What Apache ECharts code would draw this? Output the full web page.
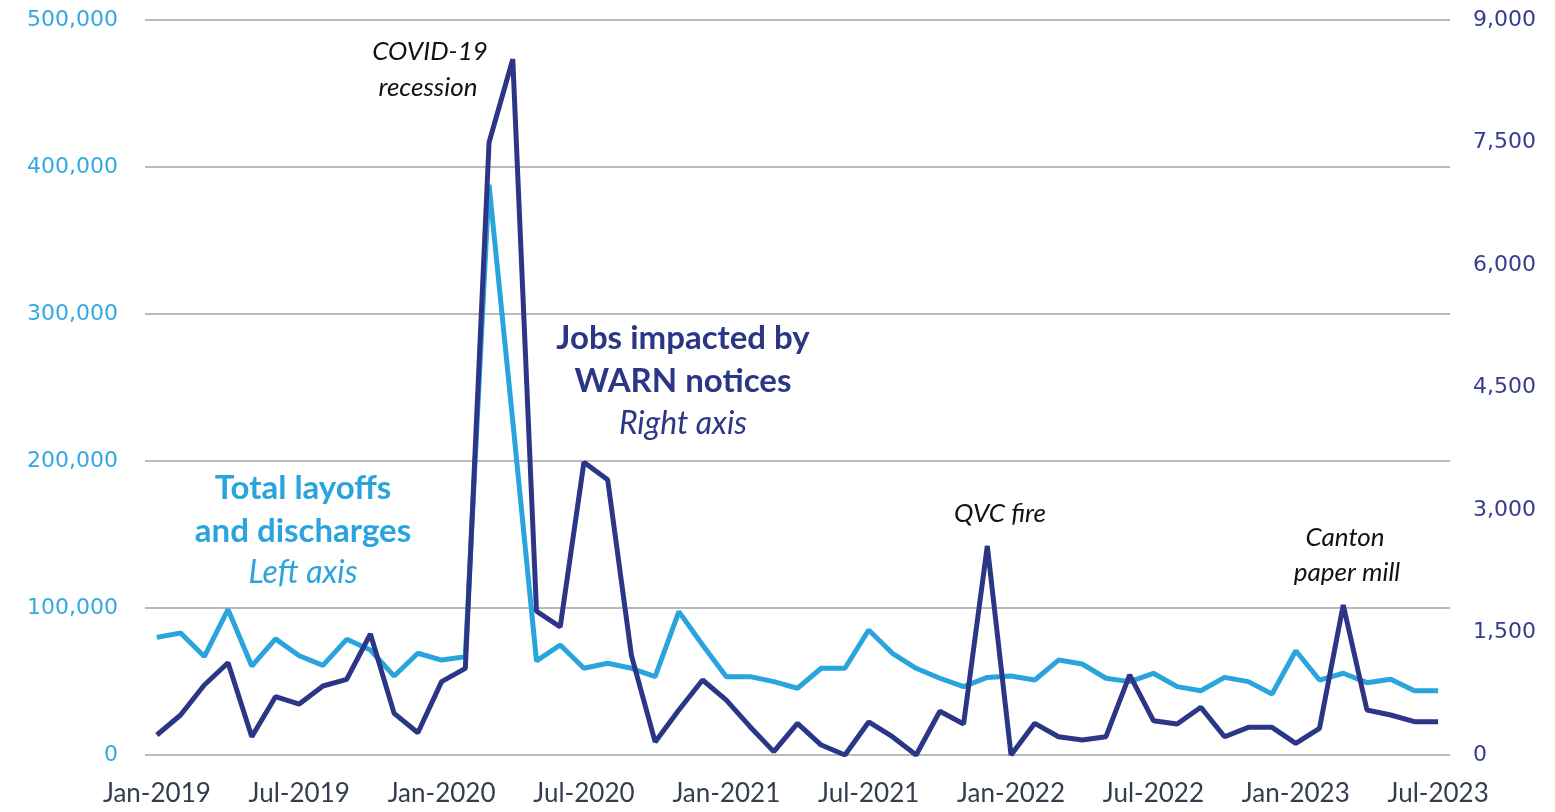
<!DOCTYPE html>
<html>
<head>
    <meta charset="UTF-8">
    <title>Layoffs and WARN notices</title>
    <script src="https://cdn.jsdelivr.net/npm/echarts@6/dist/echarts.min.js"></script>
    <style>
        html, body { margin: 0; padding: 0; background: #fff; }
        #container { width: 1555px; height: 812px; }
    </style>
</head>
<body>
<div id="container"></div>
<script>
    // month categories, Jan-2019 .. Jul-2023
    var months = [
        'Jan-2019','Feb-2019','Mar-2019','Apr-2019','May-2019','Jun-2019','Jul-2019','Aug-2019','Sep-2019','Oct-2019','Nov-2019','Dec-2019',
        'Jan-2020','Feb-2020','Mar-2020','Apr-2020','May-2020','Jun-2020','Jul-2020','Aug-2020','Sep-2020','Oct-2020','Nov-2020','Dec-2020',
        'Jan-2021','Feb-2021','Mar-2021','Apr-2021','May-2021','Jun-2021','Jul-2021','Aug-2021','Sep-2021','Oct-2021','Nov-2021','Dec-2021',
        'Jan-2022','Feb-2022','Mar-2022','Apr-2022','May-2022','Jun-2022','Jul-2022','Aug-2022','Sep-2022','Oct-2022','Nov-2022','Dec-2022',
        'Jan-2023','Feb-2023','Mar-2023','Apr-2023','May-2023','Jun-2023','Jul-2023'
    ];

    // total layoffs and discharges (left axis)
    var layoffs = [
        80000, 83000, 67000, 99000, 60500, 79000, 67500, 61000, 78700, 71400, 53700, 69200,
        64600, 66900, 388000, 227000, 64000, 74800, 59000, 62400, 59000, 53300, 97500, 74800,
        53300, 53300, 49900, 45400, 59000, 59000, 85000, 69200, 59000, 52200, 46500, 52800,
        53700, 51000, 64600, 61900, 52200, 49900, 55600, 46500, 43700, 52800, 49900, 41500,
        70900, 51000, 55600, 49200, 51500, 43700, 43700
    ];

    // jobs impacted by WARN notices (right axis)
    var warnJobs = [
        245, 490, 857, 1130, 224, 714, 624, 845, 927, 1482, 510, 273,
        898, 1061, 7500, 8520, 1760, 1570, 3585, 3370, 1220, 160, 551, 918,
        673, 347, 41, 388, 122, 0, 405, 224, 0, 535, 380, 2560,
        0, 388, 224, 184, 224, 980, 420, 380, 584, 224, 339, 339,
        143, 327, 1837, 551, 490, 408, 408
    ];

    var lightBlue = '#2AA4DC';
    var navy = '#2B3686';

    function commas(v) {
        return v.toString().replace(/\B(?=(\d{3})+(?!\d))/g, ',');
    }

    function note(text, x, y, opts) {
        opts = opts || {};
        return {
            type: 'text',
            x: x,
            y: y,
            z: 100,
            style: {
                text: text,
                fill: opts.color || '#111',
                fontFamily: 'Lato',
                fontSize: opts.size || 26,
                fontWeight: opts.weight || 'normal',
                fontStyle: opts.style || 'normal',
                align: 'center',
                verticalAlign: 'middle',
                textAlign: 'center',
                textVerticalAlign: 'middle'
            }
        };
    }

    var chart = echarts.init(document.getElementById('container'), null, {renderer: 'canvas'});

    var option = {
        animation: false,
        backgroundColor: '#fff',
        grid: {left: 145, right: 105, top: 20, bottom: 57, containLabel: false},
        xAxis: {
            type: 'category',
            data: months,
            boundaryGap: true,
            axisLine: {show: false},
            axisTick: {show: false},
            axisLabel: {
                interval: 5,
                margin: 26,
                color: '#333d4d',
                fontFamily: 'Lato',
                fontSize: 26
            }
        },
        yAxis: [
            {
                type: 'value',
                min: 0,
                max: 500000,
                interval: 100000,
                axisLine: {show: false},
                axisTick: {show: false},
                splitLine: {lineStyle: {color: '#a3a3a3', width: 1.5}},
                axisLabel: {
                    margin: 27,
                    color: '#34A8E0',
                    fontFamily: 'DejaVu Sans',
                    fontSize: 22,
                    formatter: commas
                }
            },
            {
                type: 'value',
                min: 0,
                max: 9000,
                interval: 1500,
                axisLine: {show: false},
                axisTick: {show: false},
                splitLine: {show: false},
                axisLabel: {
                    margin: 23,
                    color: '#373C8C',
                    fontFamily: 'DejaVu Sans',
                    fontSize: 22,
                    formatter: commas
                }
            }
        ],
        series: [
            {
                name: 'Total layoffs and discharges',
                type: 'line',
                yAxisIndex: 0,
                data: layoffs,
                symbol: 'none',
                lineStyle: {color: lightBlue, width: 5}
            },
            {
                name: 'Jobs impacted by WARN notices',
                type: 'line',
                yAxisIndex: 1,
                data: warnJobs,
                symbol: 'none',
                lineStyle: {color: navy, width: 5}
            }
        ],
        graphic: [
            note('COVID-19', 430, 52, {style: 'italic'}),
            note('recession', 428, 88, {style: 'italic'}),
            note('QVC fire', 1000, 514, {style: 'italic'}),
            note('Canton', 1345, 538, {style: 'italic'}),
            note('paper mill', 1347, 573, {style: 'italic'}),
            note('Total layoffs', 303, 488, {color: lightBlue, size: 33, weight: 'bold'}),
            note('and discharges', 303, 531, {color: lightBlue, size: 33, weight: 'bold'}),
            note('Left axis', 303, 573, {color: lightBlue, size: 32, style: 'italic'}),
            note('Jobs impacted by', 683, 338, {color: navy, size: 33, weight: 'bold'}),
            note('WARN notices', 683, 381, {color: navy, size: 33, weight: 'bold'}),
            note('Right axis', 683, 424, {color: navy, size: 32, style: 'italic'})
        ]
    };

    chart.setOption(option);
</script>
</body>
</html>
